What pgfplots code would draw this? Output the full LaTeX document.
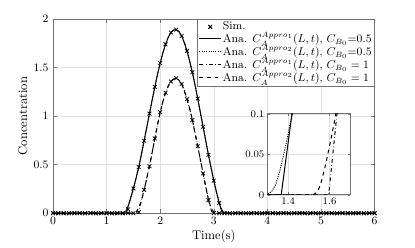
\documentclass[border=0pt]{standalone}
\usepackage{pgfplots}
\pgfplotsset{compat=1.18}
\definecolor{axgray}{gray}{0.45}
\definecolor{grdgray}{gray}{0.88}
\begin{document}
\begin{tikzpicture}
\useasboundingbox (-42pt,-27pt) rectangle (287pt,169pt);
\begin{axis}[name=main, at={(0,0)}, anchor=south west, scale only axis,
  width=255pt, height=154pt,
  xmin=0, xmax=6, ymin=0, ymax=2,
  xtick={0,1,2,3,4,5,6}, ytick={0,0.5,1,1.5,2},
  grid=major, grid style={grdgray, line width=0.4pt},
  axis line style={axgray, line width=0.5pt},
  tick style={axgray, line width=0.4pt}, tick align=inside,
  major tick length=3pt,
  tick label style={font=\small},
  xlabel={Time(s)}, ylabel={Concentration},
  xlabel style={yshift=3pt}, ylabel style={yshift=-2pt},
  clip=false,
  legend style={at={(1,1)}, anchor=north east, draw=axgray, fill=white,
    font=\small, row sep=-2pt, inner sep=1pt, nodes={inner sep=1.2pt}},
  legend cell align=left,
  legend image post style={line width=0.8pt}]
% Simulation, C_B0 = 0.5
\addplot[only marks, mark=x, mark size=2.1pt, black, line width=0.6pt] coordinates {
(0,0)(0.1,0)(0.2,0)(0.3,0)(0.4,0)(0.5,0)(0.6,0)(0.7,0)(0.8,0)(0.9,0)
(1.0,0)(1.1,0)(1.2,0)(1.3,0)(1.4,0.04)(1.5,0.255)(1.6,0.475)(1.7,0.745)(1.8,1.025)(1.9,1.30)
(2.0,1.545)(2.1,1.74)(2.2,1.86)(2.3,1.89)(2.4,1.825)(2.5,1.67)(2.6,1.45)(2.7,1.18)(2.8,0.89)(2.9,0.60)
(3.0,0.335)(3.1,0.105)(3.2,0)(3.3,0)(3.4,0)(3.5,0)(3.6,0)(3.7,0)(3.8,0)(3.9,0)
(4.0,0)(4.1,0)(4.2,0)(4.3,0)(4.4,0)(4.5,0)(4.6,0)(4.7,0)(4.8,0)(4.9,0)
(5.0,0)(5.1,0)(5.2,0)(5.3,0)(5.4,0)(5.5,0)(5.6,0)(5.7,0)(5.8,0)(5.9,0)(6.0,0)};
\addlegendentry{Sim.}
% Simulation, C_B0 = 1
\addplot[only marks, mark=x, mark size=2.1pt, black, line width=0.6pt, forget plot] coordinates {
(0,0)(0.1,0)(0.2,0)(0.3,0)(0.4,0)(0.5,0)(0.6,0)(0.7,0)(0.8,0)(0.9,0)
(1.0,0)(1.1,0)(1.2,0)(1.3,0)(1.4,0)(1.5,0)(1.6,0.01)(1.7,0.24)(1.8,0.485)(1.9,0.77)
(2.0,1.04)(2.1,1.24)(2.2,1.355)(2.3,1.39)(2.4,1.33)(2.5,1.175)(2.6,0.96)(2.7,0.69)(2.8,0.41)(2.9,0.135)
(3.0,0)(3.1,0)(3.2,0)(3.3,0)(3.4,0)(3.5,0)(3.6,0)(3.7,0)(3.8,0)(3.9,0)
(4.0,0)(4.1,0)(4.2,0)(4.3,0)(4.4,0)(4.5,0)(4.6,0)(4.7,0)(4.8,0)(4.9,0)
(5.0,0)(5.1,0)(5.2,0)(5.3,0)(5.4,0)(5.5,0)(5.6,0)(5.7,0)(5.8,0)(5.9,0)(6.0,0)};
% Ana. Appro1, C_B0 = 0.5
\addplot[black, solid, line width=0.8pt] coordinates {
(0,0)(1.366,0)(1.40,0.065)(1.45,0.16)(1.50,0.255)(1.55,0.36)(1.60,0.475)(1.65,0.605)(1.70,0.745)(1.75,0.885)
(1.80,1.025)(1.85,1.165)(1.90,1.30)(1.95,1.43)(2.00,1.545)(2.05,1.65)(2.10,1.74)(2.15,1.81)(2.20,1.86)(2.25,1.885)
(2.30,1.89)(2.35,1.87)(2.40,1.825)(2.45,1.755)(2.50,1.67)(2.55,1.565)(2.60,1.45)(2.65,1.32)(2.70,1.18)(2.75,1.035)
(2.80,0.89)(2.85,0.745)(2.90,0.60)(2.95,0.465)(3.00,0.335)(3.05,0.215)(3.10,0.105)(3.15,0.015)(3.16,0)(6,0)};
\addlegendentry{Ana. $C_A^{Appro_1}(L,t)$, $C_{B_0}$=0.5}
% Ana. Appro2, C_B0 = 0.5
\addplot[black, densely dotted, line width=0.8pt] coordinates {
(0,0)(1.28,0)(1.30,0.001)(1.32,0.004)(1.34,0.013)(1.36,0.03)(1.38,0.052)(1.40,0.075)(1.42,0.10)(1.45,0.155)
(1.50,0.255)(1.55,0.36)(1.60,0.475)(1.65,0.605)(1.70,0.745)(1.75,0.885)
(1.80,1.025)(1.85,1.165)(1.90,1.30)(1.95,1.43)(2.00,1.545)(2.05,1.65)(2.10,1.74)(2.15,1.81)(2.20,1.86)(2.25,1.885)
(2.30,1.89)(2.35,1.87)(2.40,1.825)(2.45,1.755)(2.50,1.67)(2.55,1.565)(2.60,1.45)(2.65,1.32)(2.70,1.18)(2.75,1.035)
(2.80,0.89)(2.85,0.745)(2.90,0.60)(2.95,0.465)(3.00,0.335)(3.05,0.22)(3.10,0.115)(3.15,0.035)(3.20,0.006)(3.25,0)(6,0)};
\addlegendentry{Ana. $C_A^{Appro_2}(L,t)$, $C_{B_0}$=0.5}
% Ana. Appro1, C_B0 = 1
\addplot[black, dashdotted, line width=0.8pt] coordinates {
(0,0)(1.596,0)(1.60,0.01)(1.636,0.10)(1.65,0.135)(1.70,0.24)(1.75,0.36)(1.80,0.485)(1.85,0.625)(1.90,0.77)
(1.95,0.91)(2.00,1.04)(2.05,1.15)(2.10,1.24)(2.15,1.31)(2.20,1.355)(2.25,1.38)(2.30,1.39)(2.35,1.37)(2.40,1.33)
(2.45,1.26)(2.50,1.175)(2.55,1.075)(2.60,0.96)(2.65,0.825)(2.70,0.69)(2.75,0.55)(2.80,0.41)(2.85,0.27)(2.90,0.135)
(2.95,0.035)(2.97,0)(6,0)};
\addlegendentry{Ana. $C_A^{Appro_1}(L,t)$, $C_{B_0} = 1$}
% Ana. Appro2, C_B0 = 1
\addplot[black, dashed, line width=0.8pt] coordinates {
(0,0)(1.52,0)(1.54,0.003)(1.556,0.012)(1.58,0.036)(1.604,0.065)(1.625,0.092)(1.65,0.13)(1.70,0.235)(1.75,0.36)
(1.80,0.485)(1.85,0.625)(1.90,0.77)
(1.95,0.91)(2.00,1.04)(2.05,1.15)(2.10,1.24)(2.15,1.31)(2.20,1.355)(2.25,1.38)(2.30,1.39)(2.35,1.37)(2.40,1.33)
(2.45,1.26)(2.50,1.175)(2.55,1.075)(2.60,0.96)(2.65,0.825)(2.70,0.69)(2.75,0.55)(2.80,0.41)(2.85,0.27)(2.90,0.14)
(2.95,0.05)(3.00,0.012)(3.03,0)(6,0)};
\addlegendentry{Ana. $C_A^{Appro_2}(L,t)$, $C_{B_0} = 1$}
\end{axis}
% Inset
\begin{axis}[at={(170.1pt,14.6pt)}, anchor=south west, scale only axis,
  width=65.5pt, height=64.2pt,
  xmin=1.3, xmax=1.7, ymin=0, ymax=0.1,
  xtick={1.4,1.6}, ytick={0,0.05,0.1},
  grid=major, grid style={grdgray, line width=0.4pt},
  axis line style={axgray, line width=0.5pt},
  tick style={axgray, line width=0.4pt}, tick align=inside,
  major tick length=2pt,
  tick label style={font=\footnotesize},
  xticklabel style={yshift=1pt}, yticklabel style={xshift=1pt},
  yticklabel style={/pgf/number format/fixed},
  axis background/.style={fill=white}]
\addplot[black, solid, line width=0.8pt] coordinates {
(1.30,0)(1.366,0)(1.40,0.065)(1.45,0.16)};
\addplot[black, densely dotted, line width=0.8pt] coordinates {
(1.28,0)(1.30,0.001)(1.32,0.004)(1.34,0.013)(1.36,0.03)(1.38,0.052)(1.40,0.075)(1.42,0.10)(1.45,0.155)};
\addplot[black, dashdotted, line width=0.8pt] coordinates {
(1.30,0)(1.596,0)(1.60,0.01)(1.636,0.10)(1.65,0.135)};
\addplot[black, dashed, line width=0.8pt] coordinates {
(1.30,0)(1.52,0)(1.54,0.003)(1.556,0.012)(1.58,0.036)(1.604,0.065)(1.625,0.092)(1.65,0.13)};
\end{axis}
\end{tikzpicture}
\end{document}
